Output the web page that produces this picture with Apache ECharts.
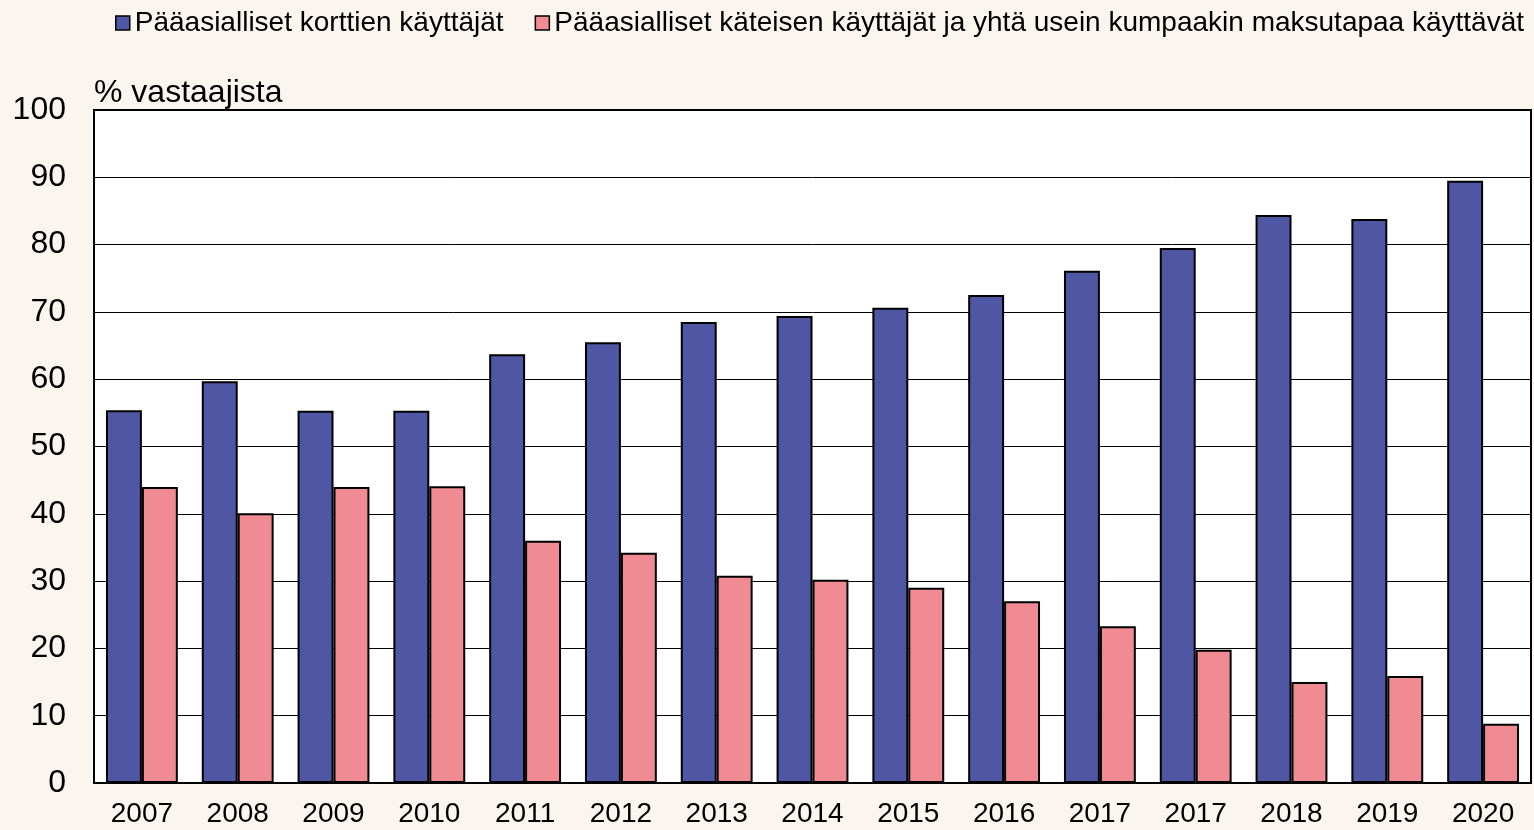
<!DOCTYPE html>
<html>
<head>
<meta charset="utf-8">
<script src="https://cdn.jsdelivr.net/npm/echarts@6/dist/echarts.min.js"></script>
<style>
html,body{margin:0;padding:0;background:#FAF5EF;}
#c{width:1534px;height:830px;}
</style>
</head>
<body>
<div id="c"></div>
<script>
const categories = ['2007','2008','2009','2010','2011','2012','2013','2014','2015','2016','2017','2017','2018','2019','2020'];
const cardUsers = [55.4, 59.7, 55.3, 55.3, 63.7, 65.5, 68.5, 69.4, 70.6, 72.5, 76.1, 79.5, 84.4, 83.8, 89.5];
const cashUsers = [44.0, 40.1, 44.0, 44.1, 36.0, 34.2, 30.8, 30.2, 29.0, 27.0, 23.3, 19.8, 15.0, 15.9, 8.8];
const seriesNames = ['Pääasialliset korttien käyttäjät', 'Pääasialliset käteisen käyttäjät ja yhtä usein kumpaakin maksutapaa käyttävät'];
const yTicks = [0,10,20,30,40,50,60,70,80,90,100];

const font = '"Liberation Sans", Arial, sans-serif';
const chart = echarts.init(document.getElementById('c'));
chart.setOption({
  backgroundColor: '#FAF5EF',
  animation: false,
  legend: {
    left: 115, top: 4, width: 1420,
    padding: [5, 0, 5, 0],
    itemWidth: 14, itemHeight: 14, itemGap: 31,
    textStyle: {fontFamily: font, fontSize: 28, color: '#000'},
    icon: 'rect',
    itemStyle: {borderColor: '#000', borderWidth: 1.5},
    data: seriesNames
  },
  grid: {
    left: 94, right: 3, top: 110, bottom: 47,
    show: true, backgroundColor: '#fff', borderColor: '#000', borderWidth: 2
  },
  xAxis: {
    type: 'category',
    data: categories,
    axisLine: {show: true, lineStyle: {color: '#000', width: 2}},
    axisTick: {show: false},
    axisLabel: {fontFamily: font, fontSize: 28, color: '#000', margin: 17, interval: 0}
  },
  yAxis: {
    type: 'value',
    min: 0, max: 100, interval: 10,
    name: '% vastaajista',
    nameLocation: 'end',
    nameGap: 1,
    nameTextStyle: {fontFamily: font, fontSize: 32, color: '#000', align: 'left'},
    axisLine: {show: true, lineStyle: {color: '#000', width: 2}},
    axisTick: {show: false},
    axisLabel: {fontFamily: font, fontSize: 32, color: '#000', margin: 28,
      formatter: v => yTicks.includes(v) ? String(v) : ''},
    splitLine: {show: true, lineStyle: {color: '#000', width: 1}}
  },
  series: [
    {
      name: seriesNames[0], type: 'bar', data: cardUsers,
      barGap: '0%', barCategoryGap: '25%',
      itemStyle: {color: '#4F56A4', borderColor: '#000', borderWidth: 2}
    },
    {
      name: seriesNames[1], type: 'bar', data: cashUsers,
      barGap: '0%', barCategoryGap: '25%',
      itemStyle: {color: '#F08B94', borderColor: '#000', borderWidth: 2}
    }
  ]
});
</script>
</body>
</html>
